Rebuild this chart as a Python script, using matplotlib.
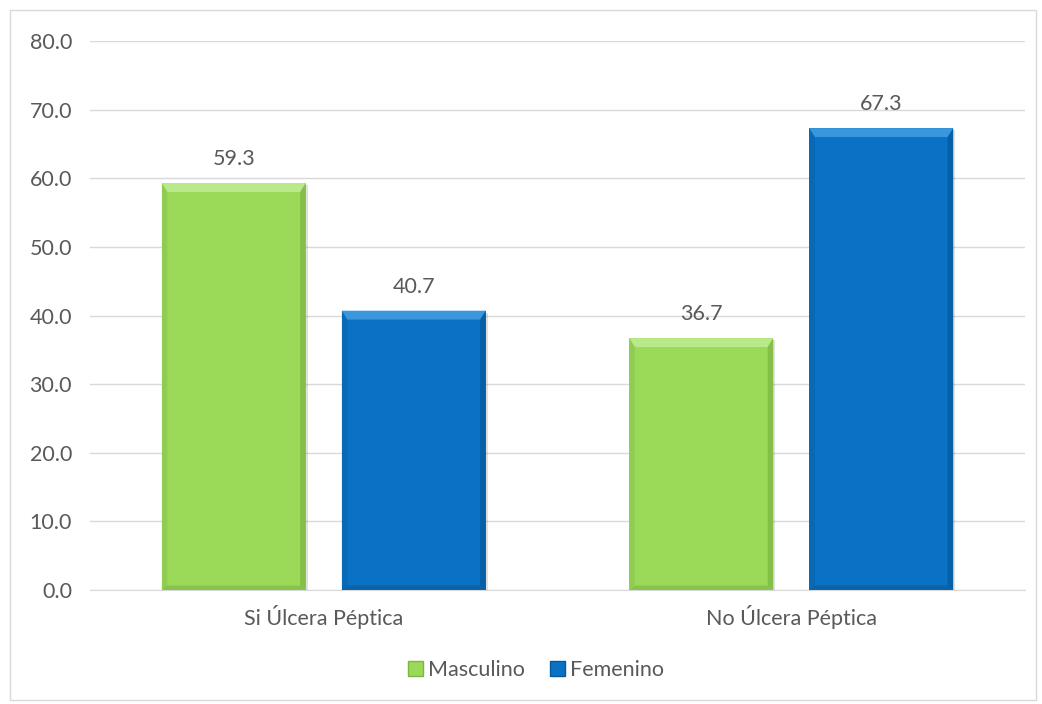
import matplotlib
matplotlib.use("Agg")
import matplotlib.pyplot as plt
from matplotlib.patches import Rectangle, Polygon
import numpy as np

categories = ["Si Úlcera Péptica", "No Úlcera Péptica"]
series_names = ["Masculino", "Femenino"]
masculino = [59.3, 36.7]
femenino = [40.7, 67.3]
yticks = [0, 10, 20, 30, 40, 50, 60, 70, 80]

colors = ["#9BDA58", "#0A72C4"]
light = ["#B9E98A", "#3A97DB"]
dark = ["#7BB542", "#05599C"]

plt.rcParams['font.family'] = ['Lato', 'DejaVu Sans']
fs = 15.5
fig = plt.figure(figsize=(10.42, 7.04), dpi=100)
fig.patches.append(Rectangle((10/1042, 4/704), 1026/1042, 690/704, transform=fig.transFigure,
                             fill=False, edgecolor="#D9D9D9", linewidth=1))
ax = fig.add_axes([90/1042, (704-590)/704, (1025-90)/1042, (590-41)/704])

x = np.arange(len(categories))
width = 0.308
offset = 0.1925
text_color = "#595959"

def bevel_bar(xc, h, i):
    x0, x1 = xc - width/2, xc + width/2
    ax.bar(xc + 0.004, h, width, bottom=-0.3, color="#000000", alpha=0.12, edgecolor="none", zorder=2)
    ax.bar(xc, h, width, color=colors[i], edgecolor="none", zorder=2)
    bw = 0.012
    bh = 1.3
    top = Polygon([[x0, h], [x1, h], [x1-bw, h-bh], [x0+bw, h-bh]], closed=True,
                  facecolor=light[i], edgecolor="none", zorder=3)
    left = Polygon([[x0, 0], [x0, h], [x0+bw, h-bh], [x0+bw, bh*0.5]], closed=True,
                   facecolor=dark[i], edgecolor="none", alpha=0.35, zorder=3)
    right = Polygon([[x1, 0], [x1, h], [x1-bw, h-bh], [x1-bw, bh*0.5]], closed=True,
                    facecolor=dark[i], edgecolor="none", alpha=0.7, zorder=3)
    bottom = Polygon([[x0, 0], [x1, 0], [x1-bw, bh*0.5], [x0+bw, bh*0.5]], closed=True,
                     facecolor=dark[i], edgecolor="none", alpha=0.6, zorder=3)
    for p in (top, left, right, bottom):
        ax.add_patch(p)
    ax.text(xc, h + 2.0, f"{h:.1f}", ha="center", va="bottom", fontsize=fs, color=text_color)

for j, (m, f) in enumerate(zip(masculino, femenino)):
    bevel_bar(x[j] - offset, m, 0)
    bevel_bar(x[j] + offset, f, 1)

ax.set_xlim(-0.5, 1.5)
ax.set_ylim(0, 80)
ax.set_yticks(yticks)
ax.set_yticklabels([f"{v:.1f}" for v in yticks], fontsize=fs, color=text_color)
ax.set_xticks(x)
ax.set_xticklabels(categories, fontsize=fs, color=text_color)
ax.tick_params(axis="y", length=0, pad=13)
ax.tick_params(axis="x", length=0, pad=11)
ax.yaxis.grid(True, color="#D9D9D9", linewidth=1)
ax.set_axisbelow(True)
for s in ["top", "right", "left"]:
    ax.spines[s].set_visible(False)
ax.spines["bottom"].set_color("#D9D9D9")

handles = [Rectangle((0, 0), 1, 1, facecolor=colors[i], edgecolor=dark[i]) for i in range(2)]
fig.legend(handles, series_names, loc="center", bbox_to_anchor=(536/1042, 1 - 670/704),
           ncol=2, frameon=False, fontsize=fs, handlelength=0.7, handleheight=0.7,
           handletextpad=0.2, columnspacing=1.2, labelcolor=text_color)

fig.savefig("out.png", dpi=100)
